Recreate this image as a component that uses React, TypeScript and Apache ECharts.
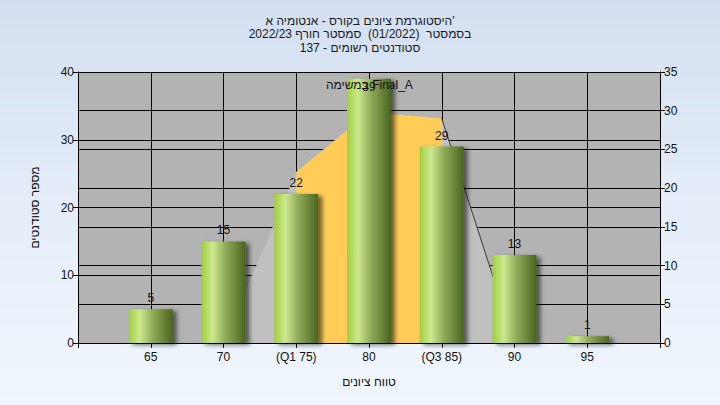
import React, { useEffect, useRef } from "react";
import * as echarts from "echarts";

const titleLines = [
  "היסטוגרמת ציונים בקורס - אנטומיה א'",
  "בסמסטר  (01/2022)  סמסטר חורף 2022/23",
  "סטודנטים רשומים - 137",
];
const legendText = "במשימה Final_A";
const xAxisName = "טווח ציונים";
const yAxisName = "מספר סטודנטים";

const categories = [65, 70, 75, 80, 85, 90, 95];
const counts = [5, 15, 22, 39, 29, 13, 1];
const xTickValues = [65, 70, 75, 80, 85, 90, 95];
const xTickLabels = ["65", "70", "(Q1 75)", "80", "(Q3 85)", "90", "95"];

// distribution curve, read on the right axis
const curveX = [70, 75, 80, 85, 90];
const curveY = [0, 22.1, 29.8, 29, 0];
const q1 = 75;
const q3 = 85;

export default function App() {
  const ref = useRef<HTMLDivElement>(null);

  useEffect(() => {
    if (!ref.current) return;
    const chart = echarts.init(ref.current, null, { renderer: "svg" });
    const font = "'Liberation Sans', Arial, sans-serif";
    const curve = curveX.map((x, i) => [x, curveY[i]]);
    const inner = curve.filter((p) => p[0] >= q1 && p[0] <= q3);
    const tail = curve.filter((p) => p[0] >= q3);

    chart.setOption({
      animation: false,
      textStyle: { fontFamily: font },
      title: {
        text: titleLines.join("\n"),
        left: "center",
        top: 9,
        textStyle: {
          fontSize: 12,
          fontWeight: "normal",
          color: "#1a1a1a",
          lineHeight: 13.5,
          fontFamily: font,
        },
      },
      graphic: [
        {
          type: "text",
          left: 326,
          top: 79,
          z: 10,
          style: {
            text: legendText,
            fontSize: 12,
            fill: "#111",
            fontFamily: font,
          },
        },
      ],
      grid: {
        left: 78,
        right: 60,
        top: 72,
        bottom: 62,
        containLabel: false,
        show: true,
        backgroundColor: "#b3b3b3",
        borderWidth: 0,
      },
      xAxis: {
        type: "value",
        min: 60,
        max: 100,
        interval: 5,
        name: xAxisName,
        nameLocation: "middle",
        nameGap: 33,
        nameTextStyle: { fontSize: 12, color: "#111", fontFamily: font },
        axisLine: { show: true, lineStyle: { color: "#000", width: 1 } },
        axisTick: { show: true, length: 5, lineStyle: { color: "#000" } },
        axisLabel: {
          fontSize: 12,
          color: "#111",
          margin: 8,
          formatter: (v: number) => {
            const i = xTickValues.indexOf(v);
            return i >= 0 ? xTickLabels[i] : "";
          },
        },
        splitLine: { show: true, lineStyle: { color: "#000", width: 1 } },
      },
      yAxis: [
        {
          type: "value",
          min: 0,
          max: 40,
          interval: 10,
          name: yAxisName,
          nameLocation: "middle",
          nameGap: 37,
          nameTextStyle: { fontSize: 12, color: "#111", fontFamily: font },
          axisLine: { show: true, lineStyle: { color: "#000", width: 1 } },
          axisTick: { show: true, length: 5, lineStyle: { color: "#000" } },
          axisLabel: { fontSize: 12, color: "#111", margin: 4 },
          splitLine: { show: true, lineStyle: { color: "#000", width: 1 } },
        },
        {
          type: "value",
          min: 0,
          max: 35,
          interval: 5,
          position: "right",
          axisLine: { show: true, lineStyle: { color: "#000", width: 1 } },
          axisTick: { show: true, length: 5, lineStyle: { color: "#000" } },
          axisLabel: { fontSize: 12, color: "#111", margin: 4 },
          splitLine: { show: true, lineStyle: { color: "#000", width: 1 } },
        },
      ],
      series: [
        {
          type: "line",
          yAxisIndex: 1,
          data: curve,
          symbol: "none",
          lineStyle: { width: 0 },
          areaStyle: { color: "#c0c0c0", opacity: 1 },
          z: 2,
        },
        {
          type: "line",
          yAxisIndex: 1,
          data: inner,
          symbol: "none",
          lineStyle: { width: 0 },
          areaStyle: { color: "#ffcc58", opacity: 1 },
          z: 2,
        },
        {
          type: "line",
          yAxisIndex: 1,
          data: tail,
          symbol: "none",
          lineStyle: { width: 1, color: "#3a3a3a" },
          z: 2,
        },
        {
          type: "bar",
          yAxisIndex: 0,
          barWidth: 44,
          z: 3,
          data: categories.map((c, i) => ({
            value: [c, counts[i]],
            label:
              counts[i] >= 38
                ? { position: "insideTop", distance: 2 }
                : undefined,
          })),
          label: {
            show: true,
            position: "top",
            distance: 5,
            fontSize: 12,
            color: "#111",
            formatter: (p: any) => String(p.value[1]),
          },
          itemStyle: {
            color: new echarts.graphic.LinearGradient(0, 0, 1, 0, [
              { offset: 0, color: "#9fcf40" },
              { offset: 0.25, color: "#cde88e" },
              { offset: 0.55, color: "#8fab58" },
              { offset: 1, color: "#4a6420" },
            ]),
            shadowBlur: 4,
            shadowColor: "rgba(0,0,0,0.55)",
            shadowOffsetX: 4,
            shadowOffsetY: 2,
          },
        },
      ],
    });

    return () => chart.dispose();
  }, []);

  return (
    <div
      ref={ref}
      style={{
        position: "fixed",
        left: 0,
        top: 0,
        width: 720,
        height: 405,
        background: "linear-gradient(180deg, #d3dff0 0%, #e4edf8 50%, #f0f6fd 100%)",
      }}
    />
  );
}
